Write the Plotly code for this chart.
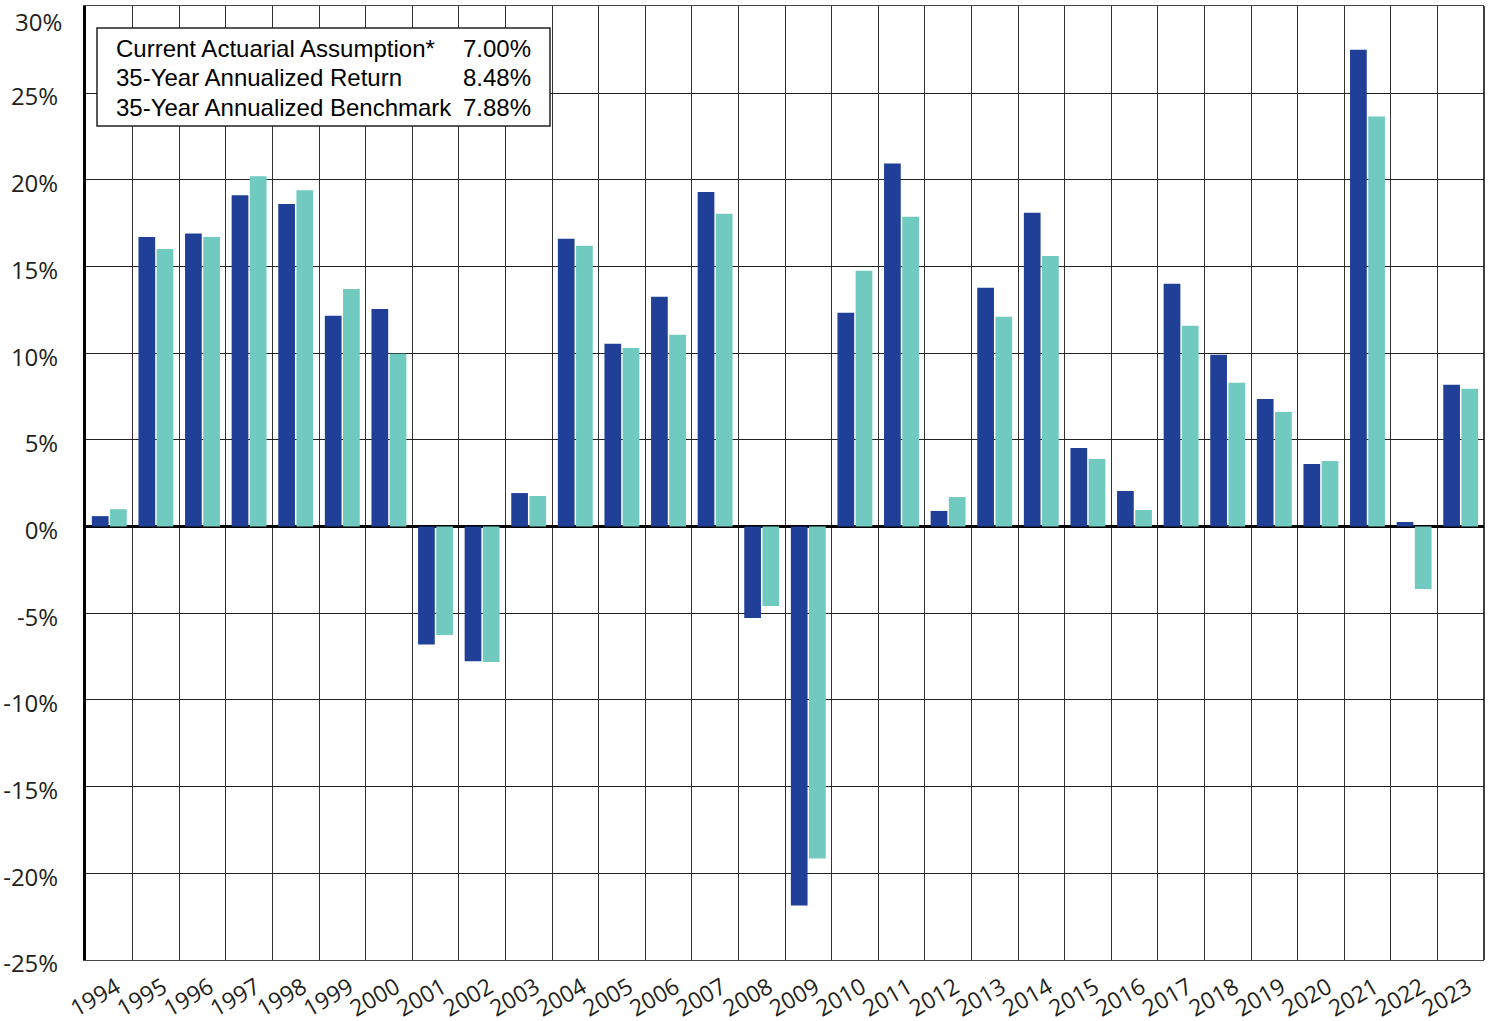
import plotly.graph_objects as go

years = [str(y) for y in range(1994, 2024)]
fund_returns = [0.6, 16.7, 16.9, 19.1, 18.6, 12.15, 12.55, -6.8, -7.77, 1.93,
                16.6, 10.54, 13.25, 19.3, -5.28, -21.85, 12.33, 20.93, 0.9, 13.77,
                18.1, 4.53, 2.05, 14.0, 9.9, 7.36, 3.6, 27.5, 0.26, 8.17]
benchmark_returns = [1.0, 16.0, 16.7, 20.2, 19.4, 13.7, 9.96, -6.26, -7.82, 1.76,
                     16.2, 10.3, 11.06, 18.04, -4.59, -19.14, 14.75, 17.87, 1.7, 12.1,
                     15.6, 3.9, 0.95, 11.58, 8.29, 6.6, 3.78, 23.64, -3.6, 7.94]
legend_labels = ["Current Actuarial Assumption*", "35-Year Annualized Return", "35-Year Annualized Benchmark"]
legend_values = ["7.00%", "8.48%", "7.88%"]
y_ticks = list(range(-25, 31, 5))
y_ticktext = [f"{v}%" for v in y_ticks]

fig = go.Figure()
fig.add_trace(go.Bar(x=years, y=fund_returns, marker_color="#203F97", marker_line_width=0, name="Return"))
fig.add_trace(go.Bar(x=years, y=benchmark_returns, marker_color="#70CAC0", marker_line_width=0, name="Benchmark"))

fig.update_layout(
    width=1493, height=1021,
    margin=dict(l=86, r=9, t=6, b=61),
    paper_bgcolor="white", plot_bgcolor="white",
    barmode="group", bargap=0.22, bargroupgap=0.08,
    showlegend=False,
    font=dict(family="Open Sans", color="#231F20"),
)
fig.update_xaxes(
    type="category", tickson="boundaries", showgrid=True, gridcolor="#333333", gridwidth=1,
    tickangle=-30, tickfont=dict(size=23, family="Open Sans"), ticks="",
    ticklabelstandoff=4, ticklabelshift=7,
    showline=True, linecolor="#444444", linewidth=1, mirror=True,
    range=[-0.5, 29.5], automargin=False,
)
# top label (30%) is drawn as an annotation so it can sit fully inside the page
fig.update_yaxes(
    range=[-25, 30.02], tickvals=y_ticks, ticktext=y_ticktext[:-1] + [""],
    showgrid=True, gridcolor="#222222", gridwidth=1,
    zeroline=True, zerolinecolor="black", zerolinewidth=3,
    showline=True, linecolor="black", linewidth=3,
    tickfont=dict(size=24, family="Open Sans"), ticks="", ticklabelstandoff=20,
    ticklabelshift=4, automargin=False,
)
fig.add_annotation(xref="paper", yref="paper", x=-(86 - 64) / 1398, y=1 - (22 - 6) / 954,
                   text=y_ticktext[-1], showarrow=False, xanchor="right", yanchor="middle",
                   font=dict(family="Open Sans", size=24, color="#231F20"))

# right border
fig.add_shape(type="line", xref="paper", yref="paper", x0=1, x1=1, y0=0, y1=1,
              line=dict(color="black", width=1.5))

# legend box
fig.add_shape(type="rect", xref="paper", yref="paper",
              x0=(97 - 86) / 1398, x1=(550 - 86) / 1398,
              y0=1 - (126 - 6) / 954, y1=1 - (28 - 6) / 954,
              line=dict(color="#222222", width=1.5), fillcolor="white", layer="above")
for i, (lab, val) in enumerate(zip(legend_labels, legend_values)):
    yc = 1 - (49 + 29 * i - 6) / 954
    fig.add_annotation(xref="paper", yref="paper", x=(114 - 86) / 1398, y=yc, text=lab,
                       showarrow=False, xanchor="left", yanchor="middle",
                       font=dict(family="Liberation Sans", size=24, color="black"))
    fig.add_annotation(xref="paper", yref="paper", x=(461 - 86) / 1398, y=yc, text=val,
                       showarrow=False, xanchor="left", yanchor="middle",
                       font=dict(family="Liberation Sans", size=24, color="black"))

fig.write_html("out.html", config={"displayModeBar": False},
               post_script="document.body.style.margin='0';")
